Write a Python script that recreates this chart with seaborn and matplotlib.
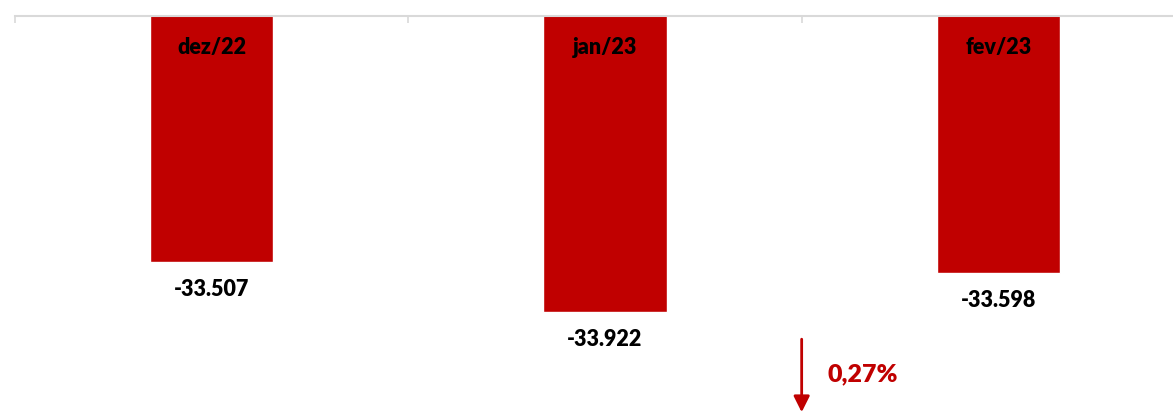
import matplotlib
matplotlib.use("Agg")
import matplotlib.pyplot as plt
import pandas as pd
import seaborn as sns

meses = ["dez/22", "jan/23", "fev/23"]
saldo = [-33.507, -33.922, -33.598]
rotulos = ["-33.507", "-33.922", "-33.598"]
variacao = "0,27%"

VERMELHO = "#C00000"

df = pd.DataFrame({"Mes": meses, "Saldo": saldo})

sns.set_style("white")
plt.rcParams["font.family"] = ["Lato", "DejaVu Sans"]

fig = plt.figure(figsize=(11.73, 4.15), dpi=100)
# axes run from x=15px to 1195px (past the right edge), top at y=16px
ax = fig.add_axes([15 / 1173, 0, 1180 / 1173, 399 / 415])

sns.barplot(data=df, x="Mes", y="Saldo", color=VERMELHO, saturation=1,
            width=0.313, ax=ax)
ax.set_xlim(-0.5, 2.5)
ax.set_ylim(-34.777, -31.466)

# only the top (zero) line with ticks at the category edges
for s in ["left", "right", "bottom"]:
    ax.spines[s].set_visible(False)
ax.spines["top"].set_color("#D9D9D9")
ax.spines["top"].set_linewidth(1.5)
ax.xaxis.tick_top()
ax.set_xticks([-0.5, 0.5, 1.5, 2.5])
ax.set_xticklabels([])
ax.tick_params(axis="x", direction="in", length=5, width=1.2, color="#D9D9D9", top=True, bottom=False)
ax.set_yticks([])
ax.set_xlabel("")
ax.set_ylabel("")

for i, (m, v, r) in enumerate(zip(meses, saldo, rotulos)):
    ax.annotate(m, xy=(i, 0.92), xycoords=("data", "axes fraction"),
                ha="center", va="center", fontsize=15.5, fontweight="heavy", color="black")
    ax.annotate(r, xy=(i, v), xytext=(0, -20), textcoords="offset points",
                ha="center", va="center", fontsize=15.5, fontweight="heavy", color="black")

# arrow showing the change
ax.annotate("", xy=(1.5, 0.0), xytext=(1.5, 0.197),
            xycoords=("data", "axes fraction"), textcoords=("data", "axes fraction"),
            arrowprops=dict(arrowstyle="-|>", color=VERMELHO, lw=2, mutation_scale=24),
            annotation_clip=False)
ax.annotate(variacao, xy=(1.565, 0.103), xycoords=("data", "axes fraction"),
            ha="left", va="center", fontsize=18, fontweight="heavy", color=VERMELHO)

fig.savefig("out.png", dpi=100)
